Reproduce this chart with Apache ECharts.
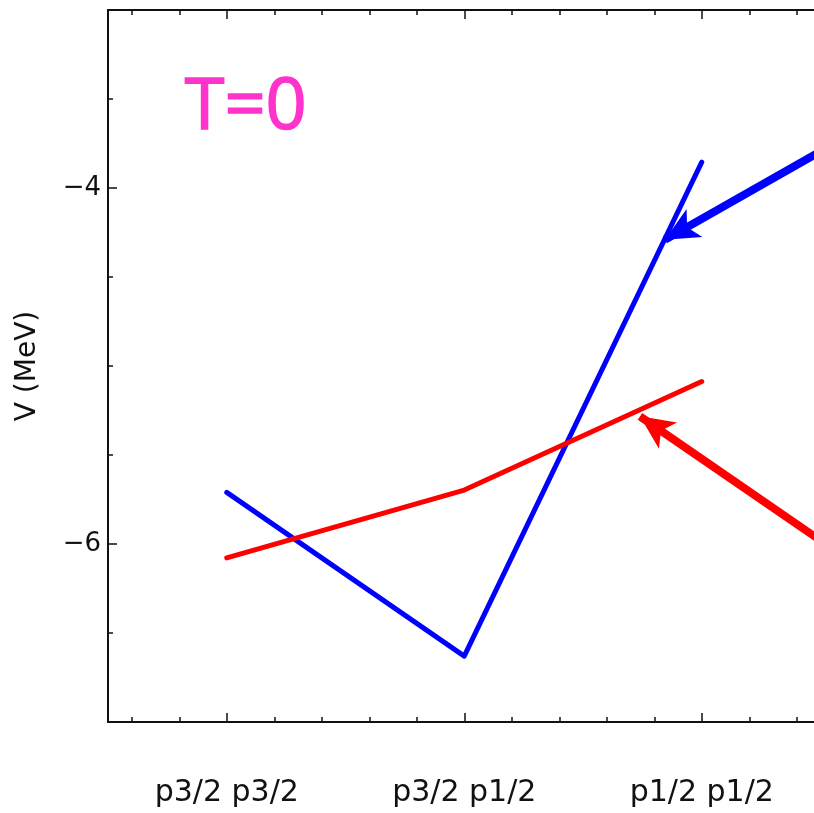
<!DOCTYPE html>
<html>
<head>
<meta charset="utf-8">
<script src="https://cdn.jsdelivr.net/npm/echarts@6/dist/echarts.min.js"></script>
<style>
html,body{margin:0;padding:0;background:#fff;}
#chart{width:814px;height:813px;}
</style>
</head>
<body>
<div id="chart"></div>
<script>
// categories and positions on the x value axis
const categories = ['p3/2 p3/2', 'p3/2 p1/2', 'p1/2 p1/2'];
const xPositions = [1, 2, 3];
// series values (MeV)
const blueValues = [-5.71, -6.63, -3.855];
const redValues = [-6.078, -5.697, -5.087];
// y tick labels
const yMajorTicks = [-6, -4];
const yMinorTicks = [-6.5, -5.5, -5, -4.5, -3.5];
const xMajorTicks = [1, 2, 3];
const xMinorTicks = [0.6, 0.8, 1.2, 1.4, 1.6, 1.8, 2.2, 2.4, 2.6, 2.8, 3.2, 3.4];
// annotation arrows [start, tip] in data coords
const blueArrow = [[3.49, -3.802], [2.845, -4.291]];
const redArrow = [[3.49, -5.971], [2.740, -5.283]];
const annotation = 'T=0';

const chart = echarts.init(document.getElementById('chart'), null, {renderer: 'canvas'});
const FONT = 'DejaVu Sans';
const axisCommon = {
  type: 'value', min: 0.5, max: 3.5, splitLine: {show: false}
};
function xAx(pos, major, showLine) {
  return Object.assign({}, axisCommon, {
    position: pos,
    axisLine: {show: showLine, onZero: false, lineStyle: {color: '#111', width: 2}},
    axisTick: {show: true, inside: true, length: major ? 9 : 5,
      customValues: major ? xMajorTicks : xMinorTicks,
      lineStyle: {color: '#111', width: 1.5}},
    axisLabel: (major && pos === 'bottom') ? {
      show: true, customValues: xMajorTicks, margin: 56,
      fontFamily: FONT, fontSize: 30, color: '#111',
      formatter: v => categories[xPositions.indexOf(Math.round(v))] || ''
    } : {show: false}
  });
}
function yAx(major) {
  return {
    type: 'value', min: -7, max: -3, position: 'left',
    splitLine: {show: false},
    axisLine: {show: major, onZero: false, lineStyle: {color: '#111', width: 2}},
    axisTick: {show: true, inside: true, length: major ? 9 : 5,
      customValues: major ? yMajorTicks : yMinorTicks,
      lineStyle: {color: '#111', width: 1.5}},
    axisLabel: major ? {show: true, customValues: yMajorTicks, margin: 7,
      fontFamily: FONT, fontSize: 26, color: '#111',
      formatter: v => (v < 0 ? '\u2212' : '') + Math.abs(v)} : {show: false},
    name: major ? 'V (MeV)' : '',
    nameLocation: 'middle', nameGap: 66, nameRotate: 90,
    nameTextStyle: {fontFamily: FONT, fontSize: 28, color: '#111'}
  };
}
function arrowMark(coords, color) {
  return {
    silent: true, animation: false, symbol: ['none', 'arrow'], symbolSize: [24, 34],
    label: {show: false},
    lineStyle: {color: color, width: 8, type: 'solid', opacity: 1},
    emphasis: {disabled: true},
    data: [[{coord: coords[0]}, {coord: coords[1]}]]
  };
}
const option = {
  backgroundColor: '#ffffff',
  animation: false,
  grid: {left: 108, top: 10, right: -6.5, bottom: 91, containLabel: false, outerBoundsMode: 'none'},
  xAxis: [xAx('bottom', true, true), xAx('bottom', false, false), xAx('top', true, true), xAx('top', false, false)],
  yAxis: [yAx(true), yAx(false)],
  graphic: [{
    type: 'text', left: 184, top: 72,
    style: {text: annotation, fontFamily: 'Open Sans', fontSize: 72, fill: '#ff33cc',
      stroke: '#ff33cc', lineWidth: 1.5}
  }],
  series: [
    {type: 'line', xAxisIndex: 0, yAxisIndex: 0, showSymbol: false, symbol: 'none',
     data: xPositions.map((x, i) => [x, blueValues[i]]),
     lineStyle: {color: '#0000ff', width: 5, cap: 'round', join: 'round'},
     markLine: arrowMark(blueArrow, '#0000ff')},
    {type: 'line', xAxisIndex: 0, yAxisIndex: 0, showSymbol: false, symbol: 'none',
     data: xPositions.map((x, i) => [x, redValues[i]]),
     lineStyle: {color: '#ff0000', width: 5, cap: 'round', join: 'round'},
     markLine: arrowMark(redArrow, '#ff0000')}
  ]
};
chart.setOption(option);
</script>
</body>
</html>
